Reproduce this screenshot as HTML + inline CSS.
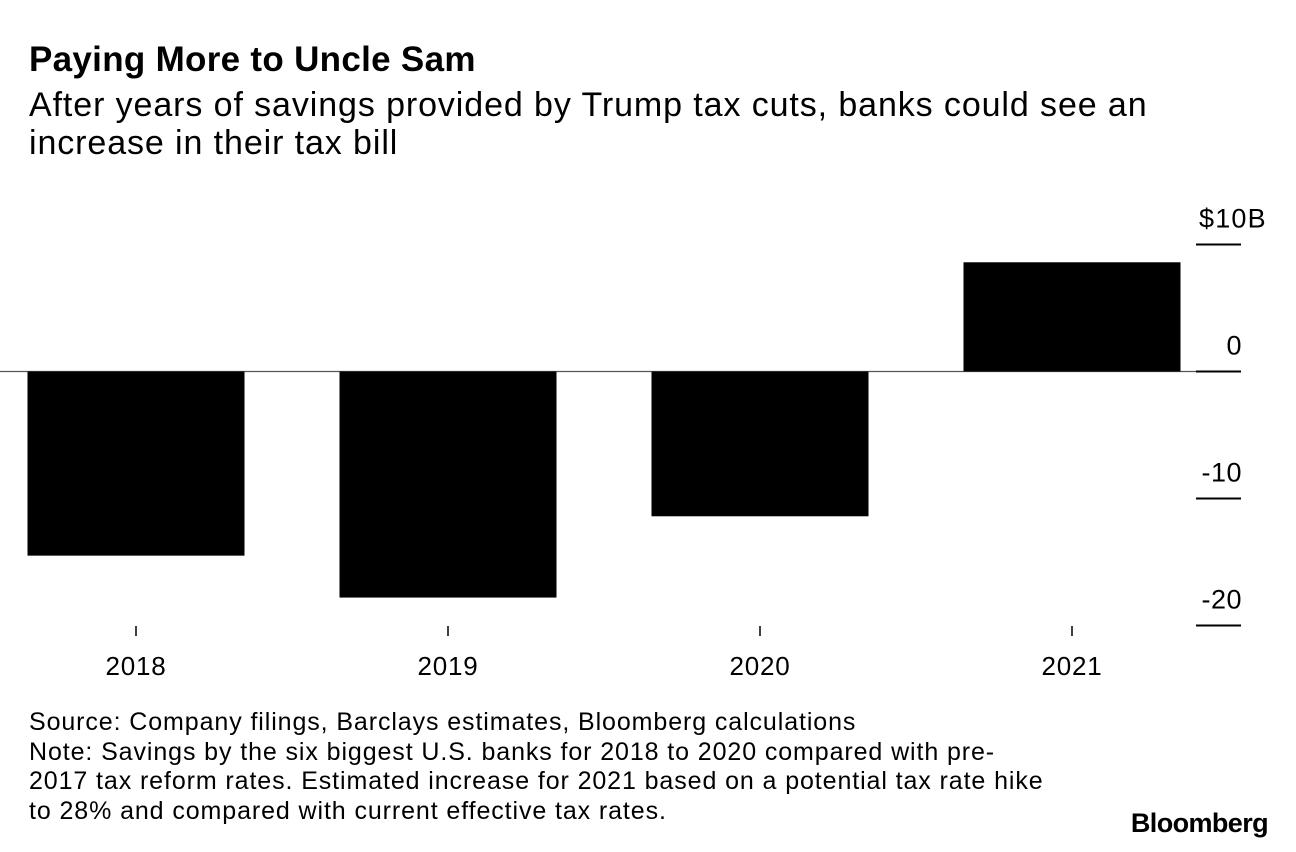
<!DOCTYPE html>
<html><head><meta charset="utf-8"><style>
body{margin:0;background:#fff;width:1296px;height:852px;overflow:hidden;font-family:"Liberation Sans",Arial,sans-serif;color:#000}
.t{position:absolute;left:29px;top:40px;font-size:35px;font-weight:bold;letter-spacing:0.3px}
.s{position:absolute;left:29px;top:86px;font-size:34px;line-height:38px;letter-spacing:0.9px;width:1250px;white-space:nowrap}
.f{position:absolute;left:29px;top:708px;font-size:25px;line-height:29.5px;letter-spacing:0.9px;white-space:nowrap}
.b{position:absolute;right:28px;top:808px;font-size:27px;font-weight:bold;letter-spacing:-0.6px}
svg{position:absolute;left:0;top:0}
</style></head><body>
<div class="t">Paying More to Uncle Sam</div>
<div class="s">After years of savings provided by Trump tax cuts, banks could see an<br>increase in their tax bill</div>
<svg width="1296" height="852" id="c"></svg>
<div class="f">Source: Company filings, Barclays estimates, Bloomberg calculations<br>Note: Savings by the six biggest U.S. banks for 2018 to 2020 compared with pre-<br>2017 tax reform rates. Estimated increase for 2021 based on a potential tax rate hike<br>to 28% and compared with current effective tax rates.</div>
<div class="b">Bloomberg</div>
<script>
const categories=["2018","2019","2020","2021"];
const values=[-14.5,-17.8,-11.4,8.6];
const ticks=[10,0,-10,-20];
const tickLabels=["$10B","0","-10","-20"];
const svg=document.getElementById('c');
const NS='http://www.w3.org/2000/svg';
const y=v=>371.5-v*12.7;
const x=i=>136+i*312;
function mk(t,a){const e=document.createElementNS(NS,t);for(const k in a)e.setAttribute(k,a[k]);svg.appendChild(e);return e;}
const zl=mk('line',{x1:0,x2:1241,y1:y(0),y2:y(0),stroke:'#555','stroke-width':1.2});


values.forEach((v,i)=>{
 const r=mk('rect',{x:x(i)-108.5,width:217,y:Math.min(y(v),y(0)),height:Math.abs(y(v)-y(0)),fill:'#000'});
 
 
 const tk=mk('line',{x1:x(i),x2:x(i),y1:626,y2:636,stroke:'#000','stroke-width':1.5});
 
 
 const t=mk('text',{x:x(i),y:675,'text-anchor':'middle','font-size':26,'letter-spacing':0.8,'font-family':'Liberation Sans, sans-serif'});
 t.textContent=categories[i];
 
 
});
ticks.forEach((v,i)=>{
 const l=mk('line',{x1:1196,x2:1241,y1:y(v),y2:y(v),stroke:'#000','stroke-width':2});
 
 
 const first=i===0;
 const t=mk('text',{x:first?1199:1242,y:y(v)-17,'text-anchor':first?'start':'end','font-size':27,'letter-spacing':first?1.2:0.5,'font-family':'Liberation Sans, sans-serif'});
 t.textContent=tickLabels[i];
 
 
});
</script>
</body></html>
